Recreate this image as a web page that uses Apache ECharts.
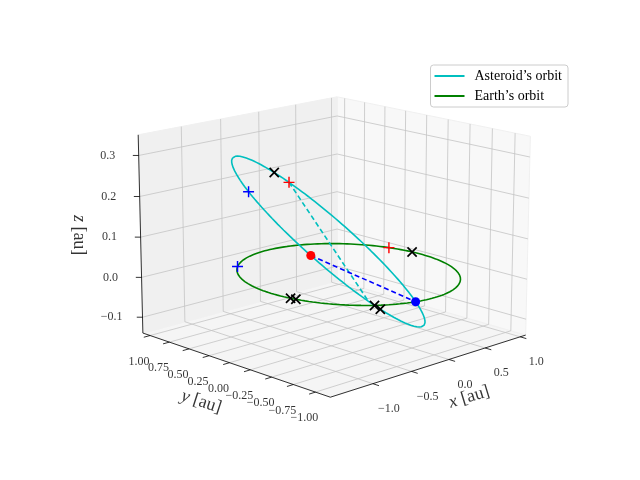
<!DOCTYPE html>
<html>
<head>
<meta charset="utf-8">
<script src="https://cdn.jsdelivr.net/npm/echarts@6/dist/echarts.min.js"></script>
<style>html,body{margin:0;padding:0;background:#fff}#chart{width:640px;height:480px}</style>
</head>
<body>
<div id="chart"></div>
<script>
// axis limits and ticks
const xLim = [-1.53, 1.08];
const yLim = [-1.165, 1.095];
const zLim = [-0.14, 0.35];
const xTicks = [-1.0, -0.5, 0.0, 0.5, 1.0];
const yTicks = [-1.0, -0.75, -0.5, -0.25, 0.0, 0.25, 0.5, 0.75, 1.0];
const zTicks = [-0.1, 0.0, 0.1, 0.2, 0.3];
const xTickLabels = ['\u22121.0', '\u22120.5', '0.0', '0.5', '1.0'];
const yTickLabels = ['\u22121.00', '\u22120.75', '\u22120.50', '\u22120.25', '0.00', '0.25', '0.50', '0.75', '1.00'];
const zTickLabels = ['\u22120.1', '0.0', '0.1', '0.2', '0.3'];

// orbits: earth circle radius, asteroid ellipse as centre + two conjugate half axes
const earthRadius = 1.0;
const asteroidCentre = [-0.36, -0.095, 0.1];
const asteroidAxisU = [-0.58, 0.61, 0.198];
const asteroidAxisV = [0.13, -0.037, 0.04];

// marker positions, as angles (deg) along each orbit
const earthBluePlus = [128];
const earthRedPlus = [19];
const earthCross = [5, -168, -165];
const earthDot = [-103];
const asteroidBluePlus = [-42];
const asteroidRedPlus = [58];
const asteroidCross = [48, -126, -130];
const asteroidDot = [-87];
const asteroidChord = [58, 238];

// view
const AZ = -134 * Math.PI / 180, EL = 15 * Math.PI / 180, DIST = 16;
const CX = 334, CY = 236, SCALE = 137;

function proj(x, y, z) {
    let bx = (x - (xLim[0] + xLim[1]) / 2) / ((xLim[1] - xLim[0]) / 2);
    let by = (y - (yLim[0] + yLim[1]) / 2) / ((yLim[1] - yLim[0]) / 2);
    let bz = (z - (zLim[0] + zLim[1]) / 2) / ((zLim[1] - zLim[0]) / 2) * 0.75;
    let sa = Math.sin(AZ), ca = Math.cos(AZ), se = Math.sin(EL), ce = Math.cos(EL);
    let rx = -sa * bx + ca * by;
    let uy = -se * ca * bx - se * sa * by + ce * bz;
    let d = ce * ca * bx + ce * sa * by + se * bz;
    let f = DIST / (DIST - d);
    return [CX + SCALE * f * rx, CY - SCALE * f * uy];
}

function earthPoint(deg) {
    let t = deg * Math.PI / 180;
    return [earthRadius * Math.cos(t), earthRadius * Math.sin(t), 0];
}
function asteroidPoint(deg) {
    let t = deg * Math.PI / 180;
    return [0, 1, 2].map(i => asteroidCentre[i] + asteroidAxisU[i] * Math.cos(t) + asteroidAxisV[i] * Math.sin(t));
}
const P = p => proj(p[0], p[1], p[2]);
const shift = (p, dx, dy) => [p[0] + dx, p[1] + dy];

let earthLine = [], asteroidLine = [];
for (let k = 0; k <= 360; k += 2) {
    earthLine.push(P(earthPoint(k)));
    asteroidLine.push(P(asteroidPoint(k)));
}

const [x0, x1] = xLim, [y0, y1] = yLim, [z0, z1] = zLim;
const panes = [
    {pts: [[x0, y0, z0], [x1, y0, z0], [x1, y1, z0], [x0, y1, z0]], color: '#f5f5f5'},
    {pts: [[x1, y0, z0], [x1, y1, z0], [x1, y1, z1], [x1, y0, z1]], color: '#f8f8f8'},
    {pts: [[x0, y1, z0], [x1, y1, z0], [x1, y1, z1], [x0, y1, z1]], color: '#f0f0f0'}
];

let grid = [];
function seg(a, b) { grid.push(P(a), P(b), '-'); }
xTicks.forEach(x => { seg([x, y0, z0], [x, y1, z0]); seg([x, y1, z0], [x, y1, z1]); });
yTicks.forEach(y => { seg([x0, y, z0], [x1, y, z0]); seg([x1, y, z0], [x1, y, z1]); });
zTicks.forEach(z => { seg([x1, y0, z], [x1, y1, z]); seg([x0, y1, z], [x1, y1, z]); });

let axes = [];
function aseg(a, b) { axes.push(P(a), P(b), '-'); }
aseg([x0, y0, z0], [x1, y0, z0]);
aseg([x0, y0, z0], [x0, y1, z0]);
aseg([x0, y1, z0], [x0, y1, z1]);
let labels = [];
const xr = x1 - x0, yr = y1 - y0, zr = z1 - z0;
xTicks.forEach((x, i) => {
    aseg([x, y0, z0], [x, y0 - 0.03 * yr, z0]);
    labels.push({value: shift(P([x, y0, z0]), 16, 25), name: xTickLabels[i]});
});
yTicks.forEach((y, i) => {
    aseg([x0, y, z0], [x0 - 0.03 * xr, y, z0]);
    labels.push({value: shift(P([x0, y, z0]), -11, 26), name: yTickLabels[i]});
});
zTicks.forEach((z, i) => {
    aseg([x0, y1, z], [x0 - 0.015 * xr, y1 + 0.015 * yr, z]);
    labels.push({value: shift(P([x0, y1, z]), -31, 0), name: zTickLabels[i]});
});

const serif = 'Liberation Serif';
const plusPath = 'path://M4.35,0h1.3v10h-1.3z M0,4.35h10v1.3h-10z';

function markers(list, fn, color, symbol, size, rotate) {
    return {
        type: 'scatter', data: list.map(d => P(fn(d))), symbol: symbol, symbolSize: size,
        symbolRotate: rotate || 0, itemStyle: {color: color, opacity: 1}, z: 5, silent: true
    };
}

const chart = echarts.init(document.getElementById('chart'), null, {renderer: 'canvas'});
chart.setOption({
    animation: false,
    grid: {left: 0, right: 0, top: 0, bottom: 0},
    xAxis: {type: 'value', min: 0, max: 640, show: false},
    yAxis: {type: 'value', min: 0, max: 480, inverse: true, show: false},
    legend: {
        data: ["Asteroid\u2019s orbit", "Earth\u2019s orbit"],
        orient: 'vertical', right: 72, top: 65, itemWidth: 30, itemHeight: 2, itemGap: 6,
        icon: 'rect', borderColor: '#cccccc', borderWidth: 1, borderRadius: 3, padding: [4, 6, 4, 4],
        textStyle: {fontFamily: serif, fontSize: 14, color: '#000', padding: [0, 0, 0, 5]}
    },
    series: [
        {
            type: 'custom', silent: true, z: 1,
            data: panes.map((p, i) => [i]),
            renderItem: (params, api) => {
                let pane = panes[api.value(0)];
                return {type: 'polygon', shape: {points: pane.pts.map(c => api.coord(P(c)))},
                        style: {fill: pane.color, stroke: '#f0f0f0'}};
            }
        },
        {type: 'line', data: grid, symbol: 'none', silent: true, z: 2,
         lineStyle: {color: '#c4c4c4', width: 0.8}},
        {type: 'line', data: axes, symbol: 'none', silent: true, z: 3,
         lineStyle: {color: '#000', width: 0.8}},
        {type: 'scatter', data: labels, symbolSize: 0, silent: true, z: 3,
         label: {show: true, position: 'inside', formatter: p => p.name,
                 fontFamily: serif, fontSize: 12, color: '#000'}},
        {type: 'scatter', symbolSize: 0, silent: true, z: 3,
         data: [
             {value: shift(P([0.1, y0, z0]), 13, 40), name: 'x', rot: 17},
             {value: shift(P([x0, 0.1, z0]), -20, 42), name: 'y', rot: -18},
             {value: shift(P([x0, y1, 0.105]), -62, 0), name: 'z', rot: -90}
         ].map(d => ({value: d.value, name: d.name, label: {rotate: d.rot}})),
         label: {show: true, position: 'inside', formatter: p => '{i|' + p.name + '} [au]',
                 fontFamily: serif, fontSize: 18, color: '#000',
                 rich: {i: {fontFamily: serif, fontStyle: 'italic', fontSize: 18}}}},
        {name: "Earth\u2019s orbit", type: 'line', data: earthLine, symbol: 'none', z: 4,
         itemStyle: {color: '#008000'}, lineStyle: {color: '#008000', width: 1.6}},
        {name: "Asteroid\u2019s orbit", type: 'line', data: asteroidLine, symbol: 'none', z: 4,
         itemStyle: {color: '#00bfbf'}, lineStyle: {color: '#00bfbf', width: 1.6}},
        {type: 'line', data: asteroidChord.map(t => P(asteroidPoint(t))), symbol: 'none', z: 4,
         lineStyle: {color: '#00bfbf', width: 1.6, type: [5, 3]}},
        {type: 'line', data: [P(asteroidPoint(asteroidDot[0])), P(earthPoint(earthDot[0]))], symbol: 'none', z: 4,
         lineStyle: {color: '#0000ff', width: 1.6, type: [5, 3]}},
        markers(earthBluePlus, earthPoint, '#0000ff', plusPath, 11),
        markers(asteroidBluePlus, asteroidPoint, '#0000ff', plusPath, 11),
        markers(earthRedPlus, earthPoint, '#ff0000', plusPath, 11),
        markers(asteroidRedPlus, asteroidPoint, '#ff0000', plusPath, 11),
        markers(earthCross, earthPoint, '#000000', plusPath, 13, 45),
        markers(asteroidCross, asteroidPoint, '#000000', plusPath, 13, 45),
        markers(earthDot, earthPoint, '#0000ff', 'circle', 9),
        markers(asteroidDot, asteroidPoint, '#ff0000', 'circle', 9)
    ]
});
</script>
</body>
</html>
